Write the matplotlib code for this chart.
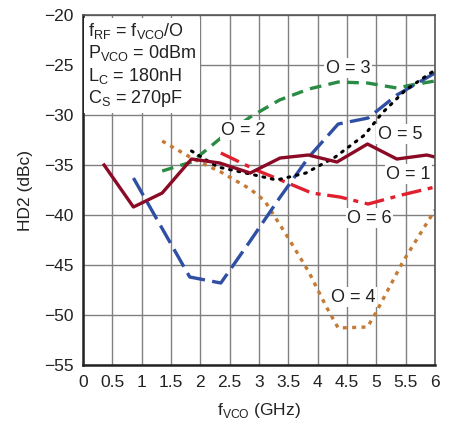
import matplotlib.pyplot as plt
import numpy as np

plt.rcParams['font.family'] = ['Liberation Sans', 'DejaVu Sans']

# O = 1
x1 = [0.36, 0.86, 1.35, 1.85, 2.33, 2.85, 3.36, 3.84, 4.33, 4.85, 5.35, 5.86, 6.0]
y1 = [-35.0, -39.2, -37.8, -34.4, -34.8, -35.8, -34.3, -34.0, -34.7, -32.9, -34.4, -34.0, -34.2]
# O = 2
x2 = [0.86, 1.82, 2.35, 2.85, 3.35, 3.85, 4.35, 4.86, 5.35, 6.0]
y2 = [-36.3, -46.2, -46.8, -42.6, -38.3, -34.2, -30.9, -30.3, -28.0, -25.8]
# O = 3
x3 = [1.35, 1.85, 2.35, 2.85, 3.35, 3.85, 4.35, 4.85, 5.35, 5.6, 6.0]
y3 = [-35.6, -34.7, -32.3, -30.2, -28.5, -27.4, -26.7, -26.8, -27.3, -27.0, -26.6]
# O = 4
x4 = [1.35, 1.85, 2.35, 2.85, 3.1, 3.5, 3.85, 4.15, 4.35, 4.85, 5.0, 5.45, 6.0]
y4 = [-32.6, -34.3, -35.7, -37.4, -38.6, -42.3, -45.7, -49.2, -51.3, -51.2, -49.7, -44.7, -39.5]
# O = 5
x5 = [1.85, 2.3, 2.85, 3.3, 3.8, 4.3, 4.8, 5.1, 5.5, 5.95, 6.0]
y5 = [-33.6, -35.2, -35.9, -36.5, -35.8, -34.2, -32.0, -29.8, -27.5, -25.7, -25.4]
# O = 6
x6 = [2.35, 2.95, 3.45, 3.9, 4.38, 4.86, 5.43, 6.0]
y6 = [-33.8, -35.5, -36.7, -37.8, -38.2, -38.9, -38.0, -37.2]

fig = plt.figure(figsize=(4.5, 4.23), dpi=100)
ax = fig.add_axes([0.1844, 0.1371, 0.7822, 0.8274])

ax.plot(x3, y3, color='#2a8c44', lw=2.4, dashes=(3.5, 2.2))
ax.plot(x4, y4, color='#c57a35', lw=2.4, dashes=(1.2, 1.6))
ax.plot(x6, y6, color='#e0202e', lw=2.4, dashes=(6, 2, 1.5, 2))
ax.plot(x2, y2, color='#2e4fa3', lw=2.4, dashes=(6, 2.2))
ax.plot(x5, y5, color='black', lw=2.2, dashes=(0.6, 2.2), dash_capstyle='round')
ax.plot(x1, y1, color='#8b0a25', lw=2.4)

ax.set_xlim(0, 6)
ax.set_ylim(-55, -20)
ax.set_xticks(np.arange(0, 6.01, 0.5))
ax.set_xticklabels(['0', '0.5', '1', '1.5', '2', '2.5', '3', '3.5', '4', '4.5', '5', '5.5', '6'])
ax.set_yticks(np.arange(-55, -19, 5))
ax.set_yticklabels(['\u2212%d' % abs(v) for v in range(-55, -19, 5)])
ax.tick_params(length=0, labelsize=12.5, pad=7, colors='#222222')
ax.grid(True, color='#808080', lw=1.0)
ax.set_axisbelow(True)
for s in ['left', 'bottom']:
    ax.spines[s].set_linewidth(1.8)
    ax.spines[s].set_color('#222222')
for s in ['top', 'right']:
    ax.spines[s].set_linewidth(1.2)
    ax.spines[s].set_color('#555555')

ax.set_xlabel('f$_{\\mathregular{VCO}}$ (GHz)', fontsize=12.5, labelpad=8, color='#222222')
ax.set_ylabel('HD2 (dBc)', fontsize=12.5, labelpad=8, color='#222222')

bb = dict(facecolor='white', edgecolor='none', pad=1.0)
lab = dict(fontsize=13, ha='center', va='center', bbox=bb, color='#222222')
ax.text(4.52, -25.3, 'O = 3', **lab)
ax.text(2.74, -31.5, 'O = 2', **lab)
ax.text(5.4, -31.9, 'O = 5', **lab)
ax.text(5.55, -35.9, 'O = 1', **lab)
ax.text(4.88, -40.3, 'O = 6', **lab)
ax.text(4.6, -48.2, 'O = 4', **lab)

info = ('f$_{\\mathregular{RF}}$ = f$_{\\mathregular{VCO}}$/O\n'
        'P$_{\\mathregular{VCO}}$ = 0dBm\n'
        'L$_{\\mathregular{C}}$ = 180nH\n'
        'C$_{\\mathregular{S}}$ = 270pF')
ax.text(0.08, -20.6, info, fontsize=13, ha='left', va='top', linespacing=1.15,
        color='#222222', bbox=dict(facecolor='white', edgecolor='none', pad=3))

fig.savefig('out.png', dpi=100)
